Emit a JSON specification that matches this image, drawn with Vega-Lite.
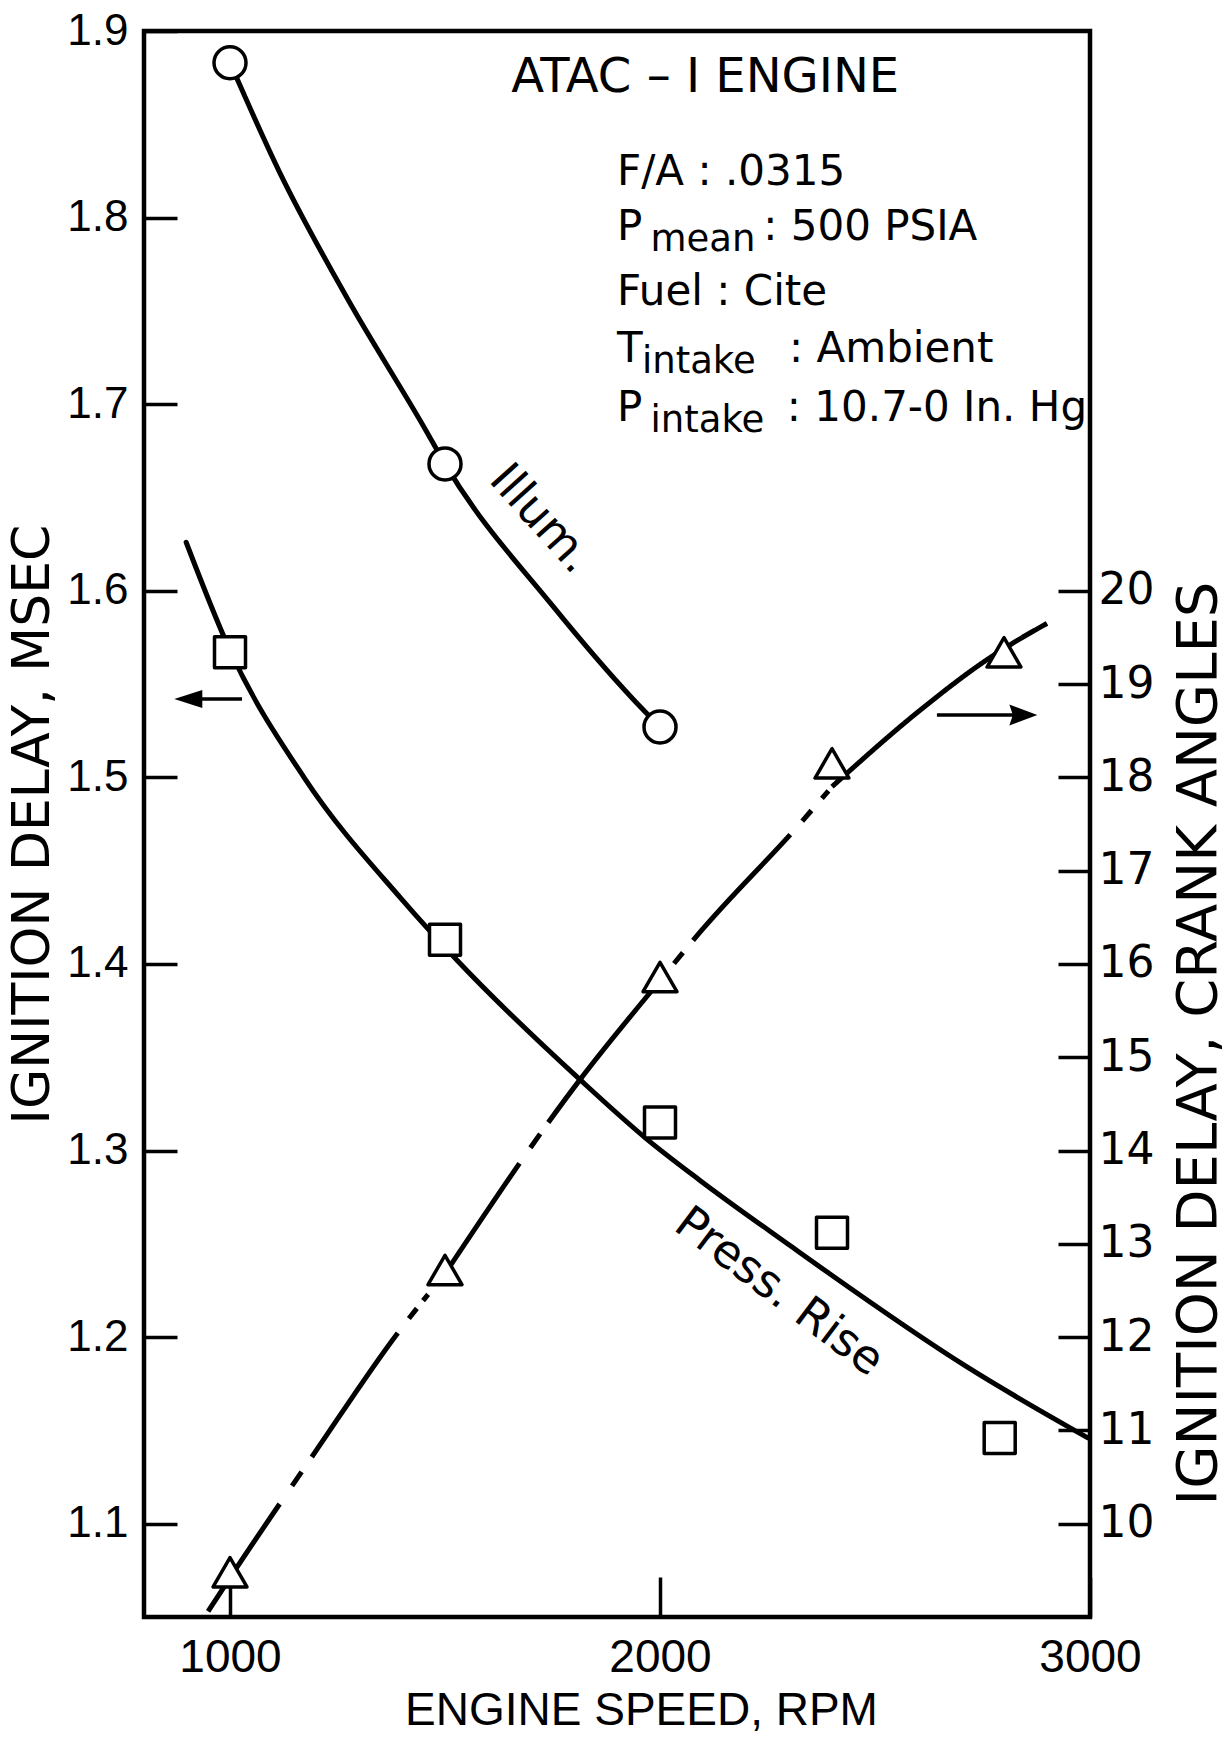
{
  "$schema": "https://vega.github.io/schema/vega-lite/v6.json",
  "width": 946,
  "height": 1586,
  "autosize": {"type": "none"},
  "padding": {"left": 144, "top": 31, "right": 139, "bottom": 122},
  "background": "white",
  "config": {
    "view": {"stroke": "black", "strokeWidth": 4.5},
    "axis": {
      "domain": false,
      "grid": false,
      "tickColor": "black",
      "tickWidth": 3.5,
      "labelColor": "black",
      "titleColor": "black",
      "titleFontWeight": "normal",
      "labelFlush": false,
      "labelOverlap": false
    }
  },
  "datasets": {
    "illumCurve": [
      {"rpm": 1000, "msec": 1.883},
      {"rpm": 1116, "msec": 1.824},
      {"rpm": 1272, "msec": 1.757},
      {"rpm": 1453, "msec": 1.687},
      {"rpm": 1500, "msec": 1.668},
      {"rpm": 1750, "msec": 1.592},
      {"rpm": 1937, "msec": 1.542},
      {"rpm": 2000, "msec": 1.527}
    ],
    "illumPts": [
      {"rpm": 1000, "msec": 1.883},
      {"rpm": 1500, "msec": 1.668},
      {"rpm": 2000, "msec": 1.527}
    ],
    "pressCurve": [
      {"rpm": 898, "msec": 1.626},
      {"rpm": 1000, "msec": 1.568},
      {"rpm": 1172, "msec": 1.5},
      {"rpm": 1398, "msec": 1.435},
      {"rpm": 1528, "msec": 1.402},
      {"rpm": 1814, "msec": 1.338},
      {"rpm": 1970, "msec": 1.306},
      {"rpm": 2093, "msec": 1.284},
      {"rpm": 2309, "msec": 1.248},
      {"rpm": 2388, "msec": 1.235},
      {"rpm": 2714, "msec": 1.184},
      {"rpm": 2995, "msec": 1.146}
    ],
    "pressPts": [
      {"rpm": 1000, "msec": 1.567},
      {"rpm": 1500, "msec": 1.413},
      {"rpm": 2000, "msec": 1.315},
      {"rpm": 2400, "msec": 1.256},
      {"rpm": 2790, "msec": 1.146}
    ],
    "crankCurve": [
      {"seg": "a", "rpm": 949, "ca": 9.06},
      {"seg": "a", "rpm": 1000, "ca": 9.42},
      {"seg": "a", "rpm": 1191, "ca": 10.72},
      {"seg": "a", "rpm": 1391, "ca": 12.05},
      {"seg": "a", "rpm": 1500, "ca": 12.68},
      {"seg": "b", "rpm": 1500, "ca": 12.68},
      {"seg": "b", "rpm": 1814, "ca": 14.76},
      {"seg": "b", "rpm": 2000, "ca": 15.82},
      {"seg": "c", "rpm": 2000, "ca": 15.82},
      {"seg": "c", "rpm": 2093, "ca": 16.34},
      {"seg": "c", "rpm": 2321, "ca": 17.48},
      {"seg": "c", "rpm": 2400, "ca": 17.9},
      {"seg": "d", "rpm": 2400, "ca": 17.9},
      {"seg": "d", "rpm": 2605, "ca": 18.72},
      {"seg": "d", "rpm": 2760, "ca": 19.26},
      {"seg": "d", "rpm": 2821, "ca": 19.44},
      {"seg": "d", "rpm": 2900, "ca": 19.65}
    ],
    "crankPts": [
      {"rpm": 1000, "ca": 9.48},
      {"rpm": 1500, "ca": 12.72},
      {"rpm": 2000, "ca": 15.86},
      {"rpm": 2400, "ca": 18.15},
      {"rpm": 2800, "ca": 19.34}
    ],
    "arrows": [
      {"side": "left", "rpm": 910, "rpm2": 1028, "head": 903, "msec": 1.542},
      {"side": "right", "rpm": 2644, "rpm2": 2835, "head": 2845, "msec": 1.5334}
    ],
    "curveLabels": [
      {"name": "illum", "rpm": 1723, "msec": 1.6385, "t": "Illum."},
      {"name": "press", "rpm": 2277, "msec": 1.2242, "t": "Press. Rise"}
    ],
    "notes": [
      {"kind": "title", "rpm": 2105, "msec": 1.8748, "t": "ATAC – I ENGINE"},
      {"kind": "main", "rpm": 1900, "msec": 1.8244, "t": "F/A : .0315"},
      {"kind": "main", "rpm": 1900, "msec": 1.795, "t": "P"},
      {"kind": "sub", "rpm": 1978, "msec": 1.795, "t": "mean"},
      {"kind": "main", "rpm": 2240, "msec": 1.795, "t": ": 500 PSIA"},
      {"kind": "main", "rpm": 1900, "msec": 1.7601, "t": "Fuel : Cite"},
      {"kind": "main", "rpm": 1900, "msec": 1.7295, "t": "T"},
      {"kind": "sub", "rpm": 1958, "msec": 1.7295, "t": "intake"},
      {"kind": "main", "rpm": 2300, "msec": 1.7295, "t": ": Ambient"},
      {"kind": "main", "rpm": 1900, "msec": 1.698, "t": "P"},
      {"kind": "sub", "rpm": 1978, "msec": 1.698, "t": "intake"},
      {"kind": "main", "rpm": 2295, "msec": 1.698, "t": ": 10.7-0 In. Hg"}
    ]
  },
  "encoding": {
    "x": {
      "field": "rpm",
      "type": "quantitative",
      "scale": {"domain": [800, 3000], "nice": false, "zero": false},
      "axis": {
        "values": [1000, 2000, 3000],
        "format": "d",
        "tickSize": -40,
        "labelPadding": 58,
        "labelFont": "Liberation Sans",
        "labelFontSize": 46,
        "title": "ENGINE SPEED, RPM",
        "titleFont": "Liberation Sans",
        "titleFontSize": 46,
        "titleX": 497,
        "titleY": 93,
        "titleAlign": "center",
        "titleBaseline": "middle",
        "titleAngle": 0
      }
    }
  },
  "layer": [
    {
      "encoding": {
        "y": {
          "field": "msec",
          "type": "quantitative",
          "scale": {"domain": [1.05, 1.9], "nice": false, "zero": false},
          "axis": {
            "orient": "left",
            "values": [1.1, 1.2, 1.3, 1.4, 1.5, 1.6, 1.7, 1.8, 1.9],
            "format": ".1f",
            "tickSize": -33,
            "labelPadding": 49,
            "labelFont": "Liberation Sans",
            "labelFontSize": 44,
            "labelBaseline": "middle",
            "title": "IGNITION DELAY, MSEC",
            "titleFont": "DejaVu Sans",
            "titleFontSize": 52,
            "titleX": -112,
            "titleY": 793,
            "titleAngle": -90,
            "titleAlign": "center",
            "titleBaseline": "middle"
          }
        }
      },
      "layer": [
        {
          "data": {"name": "illumCurve"},
          "mark": {"type": "line", "interpolate": "monotone", "color": "black", "strokeWidth": 5, "strokeCap": "round"}
        },
        {
          "data": {"name": "pressCurve"},
          "mark": {"type": "line", "interpolate": "monotone", "color": "black", "strokeWidth": 5, "strokeCap": "round"}
        },
        {
          "data": {"name": "illumPts"},
          "mark": {"type": "point", "shape": "circle", "size": 1024, "filled": false, "fill": "white", "fillOpacity": 1, "stroke": "black", "strokeWidth": 3.5, "opacity": 1}
        },
        {
          "data": {"name": "pressPts"},
          "mark": {"type": "point", "shape": "square", "size": 961, "filled": false, "fill": "white", "fillOpacity": 1, "stroke": "black", "strokeWidth": 3.5, "opacity": 1, "strokeJoin": "round"}
        },
        {
          "data": {"name": "arrows"},
          "mark": {"type": "rule", "color": "black", "strokeWidth": 3.5},
          "encoding": {"x2": {"field": "rpm2"}}
        },
        {
          "data": {"name": "arrows"},
          "transform": [{"filter": "datum.side === 'left'"}],
          "mark": {"type": "point", "shape": "M-1,0L1,-0.64L1,0.64Z", "size": 784, "filled": true, "color": "black", "opacity": 1},
          "encoding": {"x": {"field": "head", "type": "quantitative"}}
        },
        {
          "data": {"name": "arrows"},
          "transform": [{"filter": "datum.side === 'right'"}],
          "mark": {"type": "point", "shape": "M1,0L-1,-0.75L-0.75,0L-1,0.75Z", "size": 784, "filled": true, "color": "black", "opacity": 1},
          "encoding": {"x": {"field": "head", "type": "quantitative"}}
        },
        {
          "data": {"name": "curveLabels"},
          "transform": [{"filter": "datum.name === 'illum'"}],
          "mark": {"type": "text", "font": "DejaVu Sans", "fontSize": 46, "angle": 48, "align": "center", "baseline": "middle", "color": "black"},
          "encoding": {"text": {"field": "t"}}
        },
        {
          "data": {"name": "curveLabels"},
          "transform": [{"filter": "datum.name === 'press'"}],
          "mark": {"type": "text", "font": "DejaVu Sans", "fontSize": 46, "angle": 37, "align": "center", "baseline": "middle", "color": "black"},
          "encoding": {"text": {"field": "t"}}
        },
        {
          "data": {"name": "notes"},
          "transform": [{"filter": "datum.kind === 'title'"}],
          "mark": {"type": "text", "font": "DejaVu Sans", "fontSize": 48, "align": "center", "baseline": "middle", "color": "black"},
          "encoding": {"text": {"field": "t"}}
        },
        {
          "data": {"name": "notes"},
          "transform": [{"filter": "datum.kind === 'main'"}],
          "mark": {"type": "text", "font": "DejaVu Sans", "fontSize": 42, "align": "left", "baseline": "middle", "color": "black"},
          "encoding": {"text": {"field": "t"}}
        },
        {
          "data": {"name": "notes"},
          "transform": [{"filter": "datum.kind === 'sub'"}],
          "mark": {"type": "text", "font": "DejaVu Sans", "fontSize": 37, "align": "left", "baseline": "middle", "dy": 13, "color": "black"},
          "encoding": {"text": {"field": "t"}}
        }
      ]
    },
    {
      "encoding": {
        "y": {
          "field": "ca",
          "type": "quantitative",
          "scale": {"domain": [9, 26], "nice": false, "zero": false},
          "axis": {
            "orient": "right",
            "values": [10, 11, 12, 13, 14, 15, 16, 17, 18, 19, 20],
            "format": "d",
            "tickSize": -32,
            "labelPadding": 40,
            "labelFont": "DejaVu Sans",
            "labelFontSize": 44,
            "labelBaseline": "middle",
            "title": "IGNITION DELAY, CRANK ANGLES",
            "titleFont": "DejaVu Sans",
            "titleFontSize": 56,
            "titleX": 108,
            "titleY": 1012,
            "titleAngle": -90,
            "titleAlign": "center",
            "titleBaseline": "middle"
          }
        }
      },
      "layer": [
        {
          "data": {"name": "crankCurve"},
          "mark": {"type": "line", "interpolate": "monotone", "color": "black", "strokeWidth": 5},
          "encoding": {
            "detail": {"field": "seg", "type": "nominal"},
            "strokeDash": {
              "field": "seg",
              "type": "nominal",
              "legend": null,
              "scale": {
                "domain": ["a", "b", "c", "d"],
                "range": [
                  [129, 22, 17, 18, 151, 18, 13, 10, 8, 40],
                  [133, 19, 17, 14, 500, 1],
                  [0, 22, 14, 16, 144, 18, 14, 16, 10, 60],
                  [1, 0]
                ]
              }
            }
          }
        },
        {
          "data": {"name": "crankPts"},
          "mark": {"type": "point", "shape": "triangle-up", "size": 1150, "filled": false, "fill": "white", "fillOpacity": 1, "stroke": "black", "strokeWidth": 3.5, "opacity": 1, "strokeJoin": "round"}
        }
      ]
    }
  ],
  "resolve": {"scale": {"y": "independent"}}
}
